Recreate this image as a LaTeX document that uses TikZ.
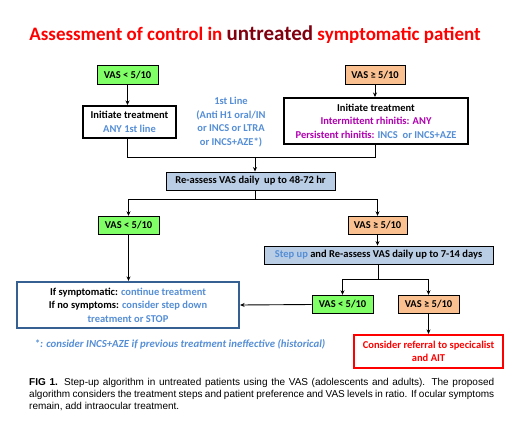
\documentclass[tikz,border=0pt]{standalone}
\usepackage{fontspec}
\setmainfont{Carlito}
\newfontfamily\capfont{Liberation Sans}
\usetikzlibrary{arrows.meta}
\definecolor{vgreen}{RGB}{128,255,102}
\definecolor{vorange}{RGB}{250,192,144}
\definecolor{vblue}{RGB}{185,205,229}
\definecolor{tblue}{RGB}{85,142,213}
\definecolor{tmag}{RGB}{176,0,176}
\definecolor{dblue}{RGB}{55,96,146}
\definecolor{maroon}{RGB}{128,0,16}
\begin{document}
\begin{tikzpicture}[x=1pt,y=-1pt,
  box/.style={draw, line width=0.9pt, font=\bfseries\fontsize{10.5}{13.5}\selectfont, inner sep=0pt, align=center},
  vasg/.style={box, fill=vgreen, minimum width=61pt, minimum height=18.5pt},
  vaso/.style={box, fill=vorange, minimum width=60pt, minimum height=18.5pt},
  vasb/.style={box, fill=vblue, minimum height=18pt},
  thick box/.style={box, line width=2pt},
  arr/.style={-{Stealth[length=4.5pt,width=4pt]}, line width=0.9pt},
  ln/.style={line width=0.9pt}]
\useasboundingbox (0,0) rectangle (526,425);
% title
\node[font=\bfseries\fontsize{19}{22}\selectfont, text=red] (title) at (255,35)
  {Assessment of control in \textcolor{maroon}{\fontsize{21}{22}\selectfont untreated} symptomatic patient};
% top row
\node[vasg] (v1) at (127.5,75) {VAS < 5/10};
\node[vaso] (v2) at (375,75) {VAS ≥ 5/10};
\node[thick box, minimum width=93pt, minimum height=32pt] (i1) at (129.5,122)
  {Initiate treatment\\\textcolor{tblue}{ANY 1st line}};
\node[thick box, minimum width=184pt, minimum height=46pt] (i2) at (376,121)
  {Initiate treatment\\\textcolor{tmag}{Intermittent rhinitis: ANY}\\\textcolor{tmag}{Persistent rhinitis:} \textcolor{tblue}{INCS\ \ or INCS+AZE}};
\node[font=\bfseries\fontsize{10.5}{13.5}\selectfont, text=tblue, align=center] (mid) at (231,122)
  {1st Line\\(Anti H1 oral/IN\\or INCS or LTRA\\or INCS+AZE*)};
\draw[arr] (v1.south) -- (v1.south |- i1.north);
\draw[arr] (v2.south) -- (v2.south |- i2.north);
% reassess
\node[vasb, minimum width=169pt] (r1) at (250.5,181) {Re-assess VAS daily\ \ up to 48-72 hr};
\coordinate (j1) at (255,157);
\draw[ln] (v1.south |- i1.south) -- (v1.south |- j1) -- (v2.south |- j1) -- (v2.south |- i2.south);
\draw[arr] (j1) -- (j1 |- r1.north);
% second row
\node[vasg] (v3) at (128.5,225.5) {VAS < 5/10};
\node[vaso, minimum width=59pt] (v4) at (377.5,225.5) {VAS ≥ 5/10};
\coordinate (j2) at (255,199);
\draw[ln] (j2 |- r1.south) -- (j2);
\draw[arr] (j2) -| (v3.north);
\draw[arr] (j2) -| (v4.north);
\node[vasb, minimum width=229pt] (s1) at (378.5,255)
  {\textcolor{tblue}{Step up} and Re-assess VAS daily up to 7-14 days};
\draw[arr] (v4.south) -- (v4.south |- s1.north);
% third row
\node[vasg] (v5) at (342.5,304.5) {VAS < 5/10};
\node[vaso, minimum width=61pt] (v6) at (428.5,304.5) {VAS ≥ 5/10};
\coordinate (j3) at (378.5,279);
\draw[ln] (s1.south) -- (j3);
\draw[arr] (j3) -| (v5.north);
\draw[arr] (j3) -| (v6.north);
\node[box, draw=dblue, line width=2.2pt, minimum width=222pt, minimum height=46pt] (sym) at (128,305)
  {If symptomatic: \textcolor{tblue}{continue treatment}\\If no symptoms: \textcolor{tblue}{consider step down}\\\textcolor{tblue}{treatment or STOP}};
\draw[arr] (v3.south) -- (v3.south |- sym.north);
\draw[arr] (v5.west) -- (sym.east);
\node[box, draw=red, line width=2.2pt, text=red, minimum width=149pt, minimum height=33pt] (red) at (428.5,351.5)
  {Consider referral to specicalist\\and AIT};
\draw[arr] (v6.south) -- (v6.south |- red.north);
% footnote
\node[font=\bfseries\itshape\fontsize{10.8}{12}\selectfont, text=tblue] (foot) at (180,344)
  {*: consider INCS+AZE if previous treatment ineffective (historical)};
% caption
\node[anchor=north west, inner sep=0pt, text width=465pt, align=justify, font=\capfont\fontsize{10}{12}\selectfont] (cap) at (29,378.5)
  {\textbf{FIG 1.} Step-up algorithm in untreated patients using the VAS (adolescents and adults). The proposed\linebreak
  algorithm considers the treatment steps and patient preference and VAS levels in ratio. If ocular symptoms\linebreak
  remain, add intraocular treatment.};
\end{tikzpicture}
\end{document}
